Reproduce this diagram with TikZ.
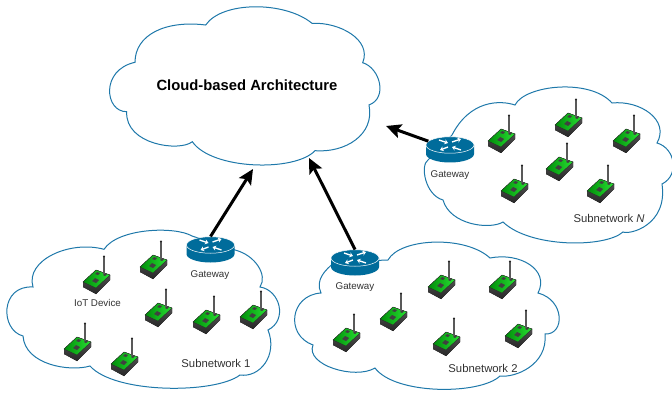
\documentclass[tikz,border=0pt]{standalone}
\usepackage{fontspec}
\setmainfont{Liberation Sans}
\usetikzlibrary{shapes,positioning,arrows.meta}
\definecolor{cloudBlue}{RGB}{30, 120, 170}
\definecolor{routerBlue}{RGB}{0, 108, 155}
\definecolor{boardDark}{RGB}{0, 140, 10}
\definecolor{boardBright}{RGB}{40, 225, 50}
\definecolor{labelGray}{RGB}{50, 50, 50}
\tikzset{
    cloudline/.style={draw=cloudBlue,line width=1pt,fill=white,line join=miter},
    label/.style={font=\fontsize{9.8}{11}\selectfont,text=labelGray,inner sep=0pt},
    netlabel/.style={font=\fontsize{11.3}{13}\selectfont,text=labelGray,inner sep=0pt},
    flow/.style={-{Stealth[length=15pt,width=14pt,inset=3pt]},line width=3pt,black},
    routerarrow/.style={-{Stealth[length=3.5pt,width=5pt]},white,line width=1.3pt},
    routertop/.style={ellipse,fill=routerBlue,draw=white,line width=0.5pt,inner sep=0pt,
        minimum width=48pt,minimum height=16.5pt},
    routerbody/.pic={
        \fill[routerBlue] (-24,0) -- (-24,9) arc[start angle=180,end angle=360,x radius=24,y radius=-8.5] -- (24,0) -- cycle;
    },
    routermarks/.pic={
        \draw[routerarrow] (-11,-5) -- (-2,-2);
        \draw[routerarrow] (2,-3) -- (11,-6);
        \draw[routerarrow] (-2,2) -- (-10,5);
        \draw[routerarrow] (11,5) -- (2,2);
    },
    device/.pic={
        % origin is the antenna tip
        \fill[top color=black!65,bottom color=black!85] (-21,26) -- (-21,31) -- (-8,38) -- (6,24) -- (6,19) -- (-8,14) -- cycle;
        \fill[left color=boardDark,right color=boardBright,draw=black!80,line width=0.35pt]
            (-21,26) -- (-8,14) -- (6,19) -- (-8,32) -- cycle;
        \fill[black!75] (-12,25) -- (-9,22) -- (-5,24) -- (-8,27) -- cycle;
        \fill[black!75] (-9,18) -- (-7,16) -- (-4,17) -- (-6,19) -- cycle;
        \fill[black!75] (-1,19) -- (1,17) -- (3,18) -- (1,20) -- cycle;
        \draw[black!65,line width=1.3pt] (0,1) -- (0,18);
        \fill[black!85] (0,0.5) circle (1.1);
    },
}
\begin{document}
\begin{tikzpicture}[x=1pt,y=-1pt]
    \useasboundingbox (0,0) rectangle (672,393);

    % Main cloud
    \draw[cloudline] (135,62.3) .. controls (135,35) and (165,20) .. (205.7,25)
        .. controls (222,1) and (285,1) .. (312,23.3)
        .. controls (340,22) and (372,40) .. (362.7,62.7)
        .. controls (380,68) and (388,98) .. (369,105)
        .. controls (375,135) and (345,153) .. (315,150.7)
        .. controls (295,172) and (212,170) .. (192.3,141.7)
        .. controls (180,152) and (125,145) .. (126.7,111.7)
        .. controls (105,112) and (100,70) .. (135,62.3) -- cycle;

    % Subnetwork clouds
    \draw[cloudline] (104,249.3) .. controls (118,228) and (175,226) .. (192,236)
        -- (235,250) .. controls (255,255) and (268,275) .. (260,287)
        .. controls (280,290) and (288,320) .. (268,330)
        .. controls (278,355) and (260,378) .. (240,375)
        .. controls (215,394) and (115,394) .. (90,366)
        .. controls (70,372) and (25,365) .. (23,336)
        .. controls (0,330) and (0,285) .. (33,287)
        .. controls (25,260) and (70,240) .. (104,249.3) -- cycle;
    \draw[cloudline] (388,260) .. controls (400,238) and (465,235) .. (490,258)
        .. controls (520,252) and (550,270) .. (538,293)
        .. controls (565,300) and (565,335) .. (545,334)
        .. controls (548,365) and (515,378) .. (500,376)
        .. controls (480,395) and (395,395) .. (375,368)
        .. controls (355,380) and (305,365) .. (313,345)
        .. controls (285,335) and (290,295) .. (321,293)
        .. controls (315,280) and (325,270) .. (335,262) -- cycle;
    \draw[cloudline] (452,135) .. controls (470,100) and (500,100) .. (515,105)
        .. controls (525,85) and (590,78) .. (612,103)
        .. controls (640,100) and (670,120) .. (657,143)
        .. controls (675,148) and (680,175) .. (662,184)
        .. controls (668,225) and (630,235) .. (623,232)
        .. controls (605,248) and (530,248) .. (503,222)
        .. controls (490,230) and (450,225) .. (443,200)
        .. controls (425,195) and (420,165) .. (428,160) -- cycle;

    % Devices, placed by antenna tip
    \foreach \x/\y in {104/256,161/241,166/289,214/296,261/291,85/323,132/338,
                       449/261,510/261,401/293,354/314,454/318,526/310,
                       509/115,576/99,634/115,567/143,522/165,608/165} {
        \pic at (\x,\y) {device};
    }

    % Gateways
    \foreach \name/\x/\y in {gwOne/210.5/245,gwTwo/355/258,gwN/450/145} {
        \pic at (\x,\y) {routerbody};
        \node[routertop] (\name) at (\x,\y) {};
        \pic at (\x,\y) {routermarks};
    }

    % Uplinks
    \coordinate (tipOne) at (253,169);
    \coordinate (tipTwo) at (309,158);
    \coordinate (tipN) at (386,126);
    \draw[flow] (gwOne.north) -- (tipOne);
    \draw[flow] (gwTwo.north) -- (tipTwo);
    \draw[flow] (gwN.170) -- (tipN);

    % Labels
    \node[font=\fontsize{14.8}{17}\selectfont\bfseries,inner sep=0pt] (archLabel) at (247,85) {Cloud-based Architecture};
    \node[label] (gwOneLabel) at (210,275) {Gateway};
    \node[label] (gwTwoLabel) at (355,287) {Gateway};
    \node[label] (gwNLabel) at (450,175) {Gateway};
    \node[label] (iotLabel) at (97.5,303) {IoT Device};
    \node[netlabel] (netOne) at (216,363) {Subnetwork 1};
    \node[netlabel] (netTwo) at (483,368) {Subnetwork 2};
    \node[netlabel] (netN) at (609,218) {Subnetwork \textit{N}};
\end{tikzpicture}
\end{document}
